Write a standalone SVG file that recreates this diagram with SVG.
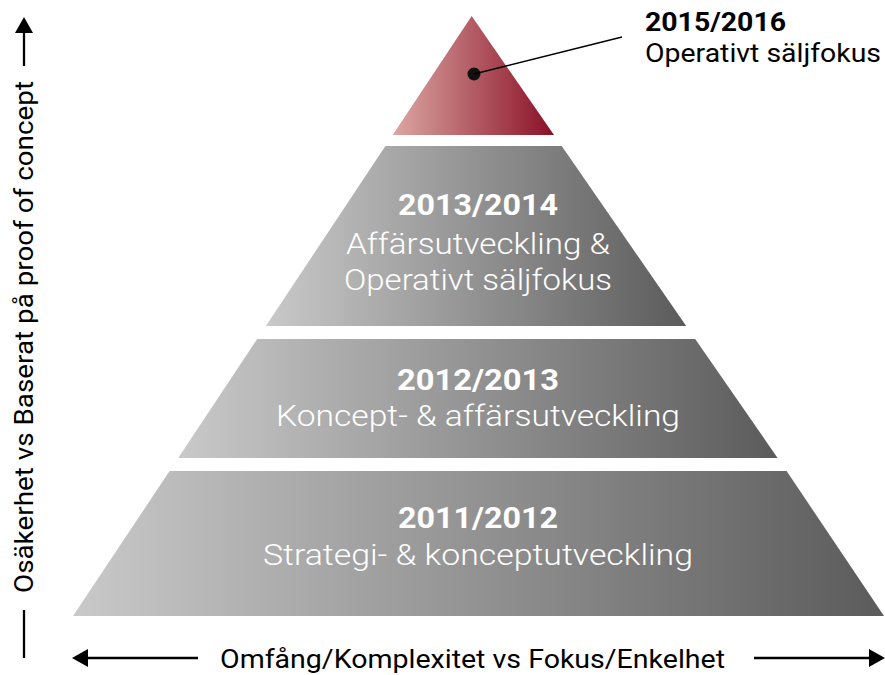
<svg xmlns="http://www.w3.org/2000/svg" width="885" height="675" viewBox="0 0 885 675">
  <defs>
    <linearGradient id="gray" x1="0" y1="0" x2="1" y2="0">
      <stop offset="0" stop-color="#c9c9c9"/>
      <stop offset="1" stop-color="#5b5b5b"/>
    </linearGradient>
    <linearGradient id="red" x1="0" y1="0" x2="1" y2="0">
      <stop offset="0" stop-color="#dca7a2"/>
      <stop offset="1" stop-color="#8a1027"/>
    </linearGradient>
    <marker id="ah" viewBox="0 0 16 18" refX="0" refY="9" markerWidth="16" markerHeight="18" markerUnits="userSpaceOnUse" orient="auto">
      <path d="M0,0 L16,9 L0,18 Z" fill="#000"/>
    </marker>
    <style>
      .tier { fill: url(#gray); }
      .yr { font-family: Roboto, "Open Sans", "Liberation Sans", sans-serif; font-weight: 700; font-size: 30px; fill: #fff; text-anchor: middle; }
      .lbl { font-family: Roboto, "Open Sans", "Liberation Sans", sans-serif; font-weight: 300; font-size: 30px; fill: #fff; text-anchor: middle; }
      .top-yr { font-family: Roboto, "Open Sans", "Liberation Sans", sans-serif; font-weight: 700; font-size: 26px; fill: #000; }
      .top-lbl { font-family: Roboto, "Open Sans", "Liberation Sans", sans-serif; font-weight: 400; font-size: 26px; fill: #000; }
      .axis { font-family: Roboto, "Open Sans", "Liberation Sans", sans-serif; font-weight: 400; font-size: 25px; fill: #000; }
      .ln { stroke: #000; stroke-width: 2.3; fill: none; }
    </style>
  </defs>

  <g id="tier-2015">
    <polygon points="471.7,16 554,135 392.7,135" fill="url(#red)"/>
    <circle cx="474" cy="74" r="6.5" fill="#111"/>
    <text class="top-yr" x="645" y="31" textLength="141" lengthAdjust="spacingAndGlyphs">2015/2016</text>
    <text class="top-lbl" x="645" y="62" textLength="236" lengthAdjust="spacingAndGlyphs">Operativt säljfokus</text>
  </g>

  <g id="tier-2013">
    <polygon class="tier" points="385.4,146 561.7,146 686.2,326 265.9,326"/>
    <text class="yr" x="478" y="215" textLength="160" lengthAdjust="spacingAndGlyphs">2013/2014</text>
    <text class="lbl" x="478" y="254" textLength="264" lengthAdjust="spacingAndGlyphs">Affärsutveckling &amp;</text>
    <text class="lbl" x="478" y="290" textLength="268" lengthAdjust="spacingAndGlyphs">Operativt säljfokus</text>
  </g>

  <g id="tier-2012">
    <polygon class="tier" points="257.2,339 695.2,339 777.6,458 178.2,458"/>
    <text class="yr" x="478" y="390" textLength="162" lengthAdjust="spacingAndGlyphs">2012/2013</text>
    <text class="lbl" x="478" y="426" textLength="404" lengthAdjust="spacingAndGlyphs">Koncept- &amp; affärsutveckling</text>
  </g>

  <g id="tier-2011">
    <polygon class="tier" points="169.6,471 786.6,471 884,616 73,616"/>
    <text class="yr" x="478" y="528" textLength="160" lengthAdjust="spacingAndGlyphs">2011/2012</text>
    <text class="lbl" x="478" y="565" textLength="430" lengthAdjust="spacingAndGlyphs">Strategi- &amp; konceptutveckling</text>
  </g>

  <g id="axis-vertical">
    <text class="axis" transform="translate(33,337) rotate(-90)" x="0" y="0" text-anchor="middle" textLength="512" lengthAdjust="spacingAndGlyphs">Osäkerhet vs Baserat på proof of concept</text>
  </g>

  <g id="axis-horizontal">
    <text class="axis" x="220" y="668" textLength="505" lengthAdjust="spacingAndGlyphs">Omfång/Komplexitet vs Fokus/Enkelhet</text>
  </g>

  <g id="connectors">
    <line x1="474" y1="74" x2="622" y2="37" stroke="#000" stroke-width="1.3"/>
    <line class="ln" x1="24" y1="66" x2="24" y2="33" marker-end="url(#ah)"/>
    <line class="ln" x1="24" y1="610" x2="24" y2="658"/>
    <line class="ln" x1="198" y1="658" x2="88" y2="658" marker-end="url(#ah)"/>
    <line class="ln" x1="754" y1="658" x2="869" y2="658" marker-end="url(#ah)"/>
  </g>
</svg>
